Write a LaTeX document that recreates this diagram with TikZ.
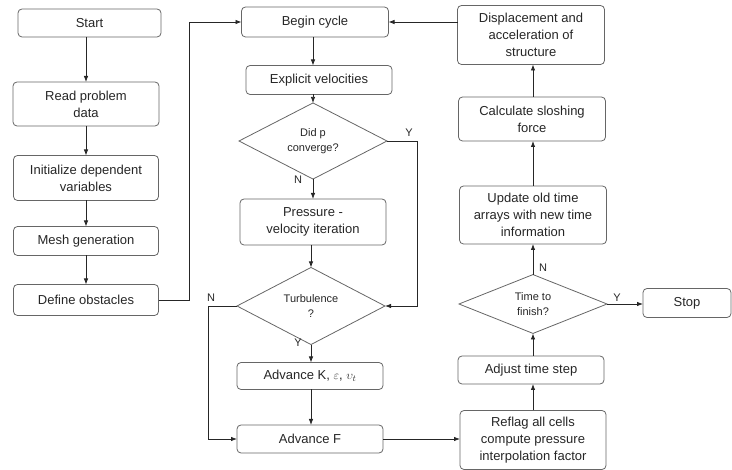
\documentclass[tikz,border=0pt]{standalone}
\usepackage{fontspec}
\setmainfont{Liberation Sans}
\usetikzlibrary{arrows.meta,shapes.geometric}
\begin{document}
\begin{tikzpicture}[x=1pt,y=-1pt,
  box/.style={draw=black!60, line width=0.8pt, rounded corners=4pt, align=center, inner sep=1pt, outer sep=0pt,
     font=\fontsize{13}{17}\selectfont, text=black!85},
  dia/.style={draw=black!60, line width=0.8pt, diamond, align=center, inner sep=0pt, outer sep=0pt,
     font=\fontsize{11}{14.5}\selectfont, text=black!85},
  arr/.style={draw=black!85, line width=0.8pt, -{Latex[length=6pt,width=4.5pt]}},
  lab/.style={font=\fontsize{11}{13}\selectfont, text=black!85, inner sep=0pt}]
\useasboundingbox (0,0) rectangle (732,470);
% left column
\node[box, minimum width=143pt, minimum height=28pt] (start) at (89.5,23) {Start};
\node[box, minimum width=146pt, minimum height=44pt] (read) at (86,104) {Read problem\\data};
\node[box, minimum width=145pt, minimum height=45pt] (init) at (86,178) {Initialize dependent\\variables};
\node[box, minimum width=145pt, minimum height=29pt] (mesh) at (86,241) {Mesh generation};
\node[box, minimum width=145pt, minimum height=31pt] (define) at (86,300) {Define obstacles};
% middle column
\node[box, minimum width=147pt, minimum height=30pt] (begin) at (315,22) {Begin cycle};
\node[box, minimum width=146pt, minimum height=29pt] (explicit) at (319,80) {Explicit velocities};
\node[dia, minimum width=148pt, minimum height=57pt] (dp) at (313,141) {Did p\\converge?};
\node[box, minimum width=146pt, minimum height=46pt] (pv) at (313,222) {Pressure -\\velocity iteration};
\node[dia, minimum width=148pt, minimum height=56pt] (turb) at (311,306) {Turbulence\\?};
\node[box, minimum width=146pt, minimum height=27pt] (advk) at (310,376) {Advance K, $\varepsilon$, $\upsilon_t$};
\node[box, minimum width=146pt, minimum height=28pt] (advf) at (310,439) {Advance F};
% right column
\node[box, minimum width=147pt, minimum height=59pt] (disp) at (531,35) {Displacement and\\acceleration of\\structure};
\node[box, minimum width=147pt, minimum height=44pt] (calc) at (532,119) {Calculate sloshing\\force};
\node[box, minimum width=147pt, minimum height=58pt] (update) at (533,215) {Update old time\\arrays with new time\\information};
\node[dia, minimum width=148pt, minimum height=56pt] (tf) at (533,304) {Time to\\finish?};
\node[box, minimum width=88pt, minimum height=29pt] (stop) at (687,303) {Stop};
\node[box, minimum width=146pt, minimum height=28pt] (adjust) at (531,370) {Adjust time step};
\node[box, minimum width=146pt, minimum height=59pt] (reflag) at (533,440) {Reflag all cells\\compute pressure\\interpolation factor};
% left connectors
\draw[arr] (start.south -| read.north) -- (read.north);
\draw[arr] (read.south) -- (init.north);
\draw[arr] (init.south) -- (mesh.north);
\draw[arr] (mesh.south) -- (define.north);
\draw[arr] (define.east) -- ++(31,0) |- (begin.west);
% middle connectors
\draw[arr] (begin.south -| dp.north) -- (explicit.north -| dp.north);
\draw[arr] (explicit.south -| dp.north) -- (dp.north);
\draw[arr] (dp.south) -- (pv.north);
\draw[arr] (pv.south -| turb.north) -- (turb.north);
\draw[arr] (turb.south) -- (advk.north -| turb.south);
\draw[arr] (advk.south -| turb.south) -- (advf.north -| turb.south);
\draw[arr] (dp.east) -- ++(30,0) |- (turb.east);
\draw[arr] (turb.west) -- ++(-29,0) |- (advf.west);
\draw[arr] (advf.east) -- (advf.east -| reflag.west);
% right connectors
\draw[arr] (reflag.north -| tf.south) -- (adjust.south -| tf.south);
\draw[arr] (adjust.north -| tf.south) -- (tf.south);
\draw[arr] (tf.north) -- (update.south -| tf.north);
\draw[arr] (update.north -| tf.north) -- (calc.south -| tf.north);
\draw[arr] (calc.north -| tf.north) -- (disp.south -| tf.north);
\draw[arr] (tf.east) -- (stop.west |- tf.east);
\draw[arr] (disp.west |- begin.east) -- (begin.east);
% labels
\node[lab] (ly1) at (409,133) {Y};
\node[lab] (ln1) at (298,180) {N};
\node[lab] (ln2) at (211,298) {N};
\node[lab] (ly2) at (298,343) {Y};
\node[lab] (ln3) at (543,268) {N};
\node[lab] (ly3) at (617,298) {Y};
\end{tikzpicture}
\end{document}
